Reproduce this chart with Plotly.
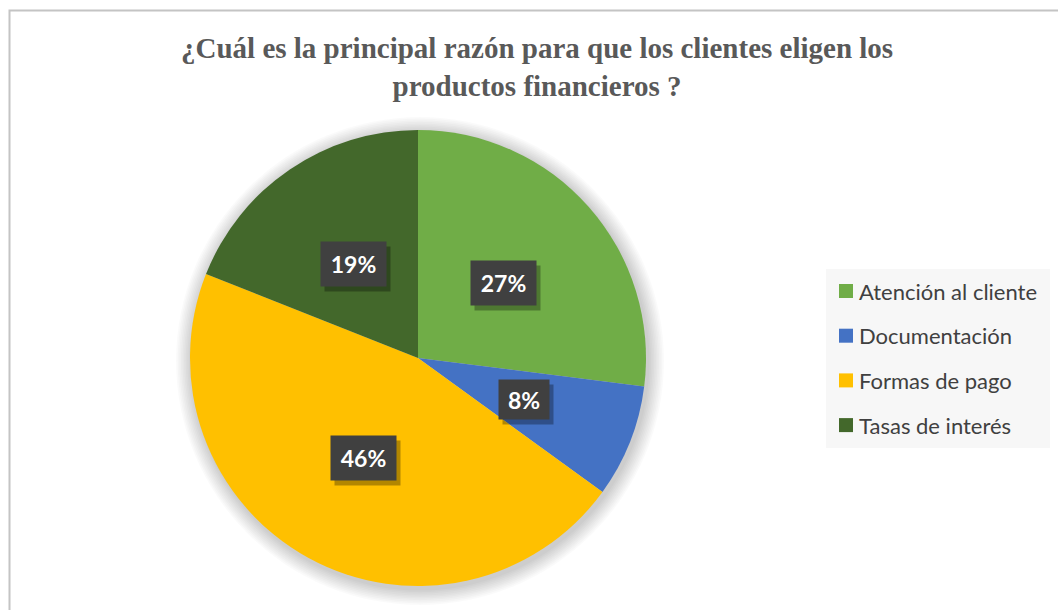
import math
import plotly.graph_objects as go

# Survey answers: main reason customers choose the financial products
categories = ["Atención al cliente", "Documentación", "Formas de pago", "Tasas de interés"]
shares = [27, 8, 46, 19]
colors = ["#70AD47", "#4472C4", "#FFC000", "#43682B"]

title_lines = ["¿Cuál es la principal razón para que los clientes eligen los",
               "productos financieros ?"]

W, H = 1058, 610
# pie geometry in pixels (centre and radius)
CX, CY, R = 418, 358, 228

def px_x(x):
    return x / W

def px_y(y):
    return 1 - y / H

fig = go.Figure()

fig.add_trace(go.Pie(
    labels=categories,
    values=shares,
    marker=dict(colors=colors, line=dict(width=0)),
    sort=False,
    direction="clockwise",
    rotation=0,
    textinfo="none",
    hoverinfo="label+percent",
    showlegend=False,
    domain=dict(x=[px_x(CX - R), px_x(CX + R)], y=[px_y(CY + R), px_y(CY - R)]),
))

shapes = []
# chart area frame
shapes.append(dict(type="rect", xref="paper", yref="paper",
                   x0=px_x(9.5), x1=px_x(1080), y0=px_y(630), y1=px_y(10.5),
                   line=dict(color="#C4C4C4", width=2), fillcolor="rgba(0,0,0,0)",
                   layer="below"))
# soft shadow around the pie
for k in range(1, 11):
    r = R + k * 1.6
    shapes.append(dict(type="circle", xref="paper", yref="paper",
                       x0=px_x(CX + 2 - r), x1=px_x(CX + 2 + r),
                       y0=px_y(CY + 3 + r), y1=px_y(CY + 3 - r),
                       line=dict(width=0), fillcolor="rgba(0,0,0,0.018)",
                       layer="below"))

annotations = []
# title
annotations.append(dict(x=537 / W, y=px_y(67), xref="paper", yref="paper",
                        xanchor="center", yanchor="middle", showarrow=False,
                        text="<b>" + "<br>".join(title_lines) + "</b>",
                        font=dict(family="Liberation Serif", size=29, color="#595959")))

# percentage labels at half radius on each slice's mid angle
total = sum(shares)
cum = 0
for val in shares:
    mid = (cum + val / 2) / total * 2 * math.pi
    cum += val
    lx = CX + 0.5 * R * math.sin(mid)
    ly = CY - 0.5 * R * math.cos(mid)
    txt = f"<b>{round(val / total * 100)}%</b>"
    bw = 63 if len(txt) > 9 else 48
    bh = 42 if len(txt) > 9 else 37
    annotations.append(dict(x=px_x(lx), y=px_y(ly), xref="paper", yref="paper",
                            xanchor="center", yanchor="middle",
                            text="", showarrow=False, width=bw, height=bh,
                            bgcolor="rgba(0,0,0,0.30)", xshift=4, yshift=-5))
    annotations.append(dict(x=px_x(lx), y=px_y(ly), xref="paper", yref="paper",
                            xanchor="center", yanchor="middle",
                            text=txt, showarrow=False, width=bw, height=bh,
                            bgcolor="#404040",
                            font=dict(family="Lato", size=23, color="white")))

# legend box
LX0, LX1, LY0, LY1 = 826, 1050, 269, 448
shapes.append(dict(type="rect", xref="paper", yref="paper",
                   x0=px_x(LX0), x1=px_x(LX1), y0=px_y(LY1), y1=px_y(LY0),
                   line=dict(width=0), fillcolor="#F7F7F7", layer="below"))
for i, (name, col) in enumerate(zip(categories, colors)):
    yc = 291 + i * 44.7
    shapes.append(dict(type="rect", xref="paper", yref="paper",
                       x0=px_x(839), x1=px_x(853), y0=px_y(yc + 7), y1=px_y(yc - 7),
                       line=dict(width=0), fillcolor=col))
    annotations.append(dict(x=px_x(857), y=px_y(yc), xref="paper", yref="paper",
                            xanchor="left", yanchor="middle", text=name,
                            showarrow=False,
                            font=dict(family="Lato", size=22, color="#404040")))

fig.update_layout(
    width=W, height=H,
    margin=dict(l=0, r=0, t=0, b=0),
    paper_bgcolor="white",
    plot_bgcolor="white",
    shapes=shapes,
    annotations=annotations,
)

fig.write_html("out.html")
